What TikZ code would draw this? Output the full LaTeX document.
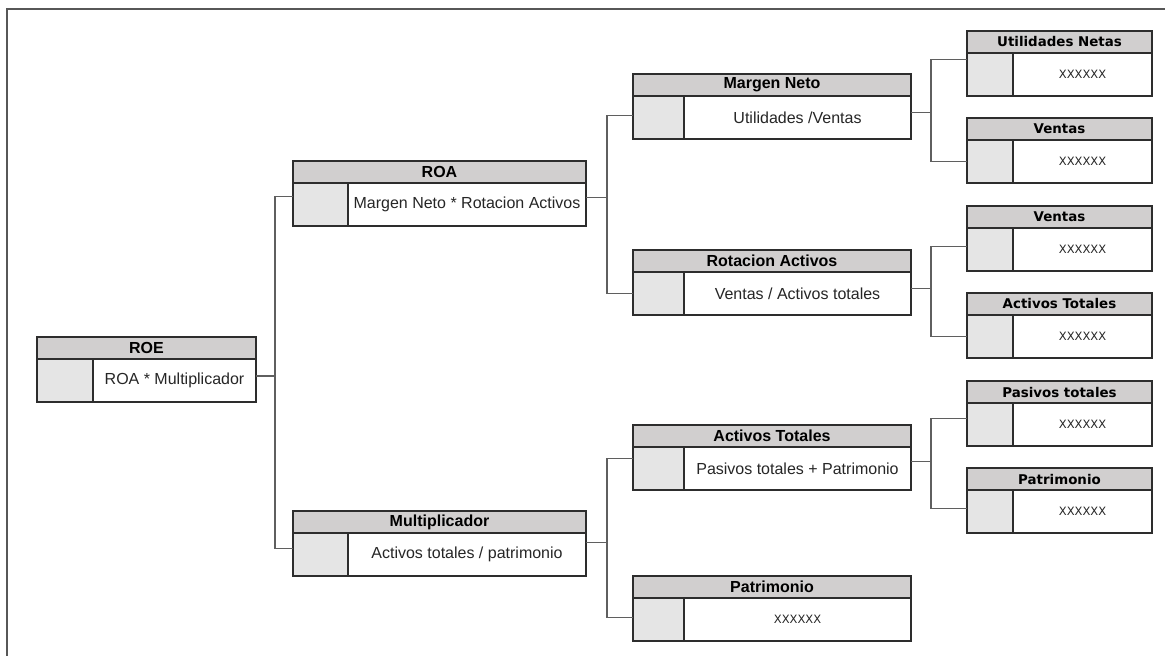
\documentclass[tikz,border=0pt]{standalone}
\usepackage{fontspec}
\setmainfont{Liberation Sans}
\newfontfamily\dejavu{DejaVu Sans}
\usetikzlibrary{positioning}

\definecolor{cabezagris}{RGB}{209,207,207}
\definecolor{celdagris}{RGB}{229,229,229}
\definecolor{bordegris}{RGB}{45,45,45}
\definecolor{lineagris}{RGB}{95,95,95}

\tikzset{
  caja/.style={draw=bordegris, line width=1.2pt, inner sep=0pt, outer sep=0pt},
  celda/.style={caja, fill=celdagris, minimum height=43pt},
  texto/.style={caja, fill=white, minimum height=43pt, text=black!85,
    font=\fontsize{16}{18}\selectfont},
  cabeza/.style={caja, fill=cabezagris, minimum height=22pt,
    font=\fontsize{16}{18}\selectfont\bfseries},
  linea/.style={draw=lineagris, line width=1.2pt},
  marco/.style={draw=bordegris!80, line width=1.5pt}
}

% fonts of the small boxes
\newcommand{\chico}{\dejavu\fontsize{11.5}{13}\selectfont}
\newcommand{\titulo}{\dejavu\fontsize{13.4}{15}\selectfont\bfseries}

% name, body corner, cell width, text width, title, text
\newcommand{\bloque}[6]{%
  \node[celda, minimum width=#3pt, anchor=north west] (#1-c) at (#2) {};
  \node[texto, minimum width=#4pt, right=0pt of #1-c] (#1) {#6};
  \node[cabeza, minimum width=#3pt+#4pt, anchor=south west] (#1-t) at (#1-c.north west) {#5};
}

\begin{document}
\begin{tikzpicture}[x=1pt, y=-1pt]
\useasboundingbox (0,0) rectangle (1165,656);
\draw[marco] (7,670) -- (7,9) -- (1180,9);

\bloque{roe}{37,359}{56}{163}{ROE}{ROA * Multiplicador}
\bloque{roa}{293,183}{55}{238}{ROA}{Margen Neto * Rotacion Activos}
\bloque{mult}{293,533}{55}{238}{Multiplicador}{Activos totales / patrimonio}
\bloque{mn}{633,96}{51}{227}{Margen Neto}{Utilidades /Ventas}
\bloque{rot}{633,272}{51}{227}{Rotacion Activos}{Ventas / Activos totales}
\bloque{at}{633,447}{51}{227}{Activos Totales}{Pasivos totales + Patrimonio}
\bloque{patr}{633,598}{51}{227}{Patrimonio}{\chico XXXXXX}
\bloque{un}{967,53}{46}{139}{\titulo Utilidades Netas}{\chico XXXXXX}
\bloque{ven}{967,140}{46}{139}{\titulo Ventas}{\chico XXXXXX}
\bloque{ven2}{967,228}{46}{139}{\titulo Ventas}{\chico XXXXXX}
\bloque{atr}{967,315}{46}{139}{\titulo Activos Totales}{\chico XXXXXX}
\bloque{pas}{967,403}{46}{139}{\titulo Pasivos totales}{\chico XXXXXX}
\bloque{patr2}{967,490}{46}{139}{\titulo Patrimonio}{\chico XXXXXX}

\draw[linea] ([yshift=4.5pt]roe.east) -- ++(19,0);
\draw[linea] ([yshift=8pt]roa-c.west) -- ++(-18,0) |- ([yshift=6pt]mult-c.west);

\draw[linea] ([yshift=7pt]roa.east) -- ++(21,0);
\draw[linea] ([yshift=2pt]mn-c.west) -- ++(-26,0) |- (rot-c.west);
\draw[linea] ([yshift=12pt]mult.east) -- ++(21,0);
\draw[linea] ([yshift=10pt]at-c.west) -- ++(-26,0) |- ([yshift=2pt]patr-c.west);

\draw[linea] ([yshift=5pt]mn.east) -- ++(20,0);
\draw[linea] ([yshift=15pt]un-c.west) -- ++(-36,0) |- (ven-c.west);
\draw[linea] ([yshift=5pt]rot.east) -- ++(20,0);
\draw[linea] ([yshift=3pt]ven2-c.west) -- ++(-36,0) |- (atr-c.west);
\draw[linea] ([yshift=7pt]at.east) -- ++(20,0);
\draw[linea] ([yshift=6pt]pas-c.west) -- ++(-36,0) |- ([yshift=3pt]patr2-c.west);
\end{tikzpicture}
\end{document}
